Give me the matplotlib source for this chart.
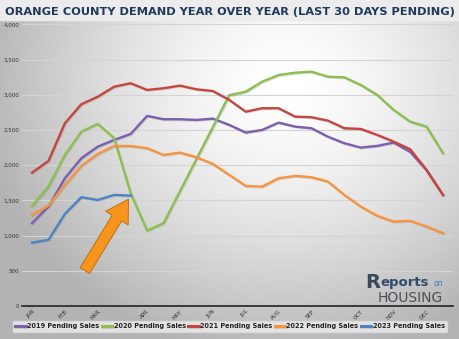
import matplotlib
matplotlib.use('Agg')
import matplotlib.pyplot as plt
import matplotlib.patheffects as pe
import numpy as np

# biweekly points, labelled at the first point of each month
month_labels = ['JAN', 'FEB', 'MAR', 'APR', 'MAY', 'JUN', 'JUL', 'AUG', 'SEP', 'OCT', 'NOV', 'DEC']
month_ticks = [0, 2, 4, 7, 9, 11, 13, 15, 17, 20, 22, 24]

sales_2019 = [1176, 1412, 1815, 2099, 2264, 2359, 2444, 2700, 2653, 2653, 2643, 2661, 2572,
              2463, 2501, 2605, 2548, 2525, 2405, 2312, 2250, 2274, 2321, 2190, 1930, 1575]
sales_2020 = [1421, 1696, 2146, 2477, 2586, 2383, 1602, 1071, 1176, 1630, 2085, 2540, 2995,
              3044, 3186, 3281, 3314, 3328, 3257, 3248, 3139, 2998, 2785, 2619, 2548, 2170]
sales_2021 = [1894, 2060, 2596, 2866, 2973, 3115, 3164, 3069, 3093, 3130, 3078, 3054, 2927,
              2760, 2809, 2809, 2690, 2681, 2633, 2525, 2515, 2430, 2335, 2227, 1933, 1578]
sales_2022 = [1294, 1426, 1720, 1990, 2160, 2273, 2273, 2241, 2146, 2179, 2113, 2018, 1862,
              1706, 1696, 1815, 1848, 1829, 1767, 1578, 1412, 1280, 1199, 1209, 1128, 1034]
sales_2023 = [900, 939, 1308, 1545, 1507, 1578, 1568]

series = [
    ('2019 Pending Sales', sales_2019, '#7d5fae'),
    ('2020 Pending Sales', sales_2020, '#8cbf4f'),
    ('2021 Pending Sales', sales_2021, '#c4463f'),
    ('2022 Pending Sales', sales_2022, '#f7943f'),
    ('2023 Pending Sales', sales_2023, '#4a84c4'),
]

fig = plt.figure(figsize=(4.6, 3.39), dpi=100)

# gray gradient background
bg = fig.add_axes([0, 0, 1, 1], zorder=-10)
gx, gy = np.meshgrid(np.linspace(0, 1, 200), np.linspace(0, 1, 150))
r = np.sqrt(((gx - 0.62) / 0.7) ** 2 + ((gy - 0.75) / 0.85) ** 2)
shade = np.clip(1.0 - 0.32 * r ** 1.5, 0.7, 1.0)
bg.imshow(shade, cmap='gray', vmin=0, vmax=1, extent=[0, 1, 0, 1],
          origin='lower', aspect='auto')
bg.axhspan(0.94, 1.0, color='#ececec')
bg.set_xlim(0, 1)
bg.set_ylim(0, 1)
bg.axis('off')

fig.text(0.5, 0.965, 'ORANGE COUNTY DEMAND YEAR OVER YEAR (LAST 30 DAYS PENDING)',
         ha='center', va='center', fontsize=8.2, fontweight='bold', color='#1f3a5c')

ax = fig.add_axes([22 / 460, 33 / 339, 431 / 460, 281.6 / 339])
ax.patch.set_alpha(0)
x_all = np.arange(len(sales_2019))
for name, vals, col in series:
    ax.plot(x_all[:len(vals)], vals, color=col, lw=1.7, label=name, solid_joinstyle='round',
            path_effects=[pe.SimpleLineShadow(offset=(0.6, -0.6), shadow_color='#777777', alpha=0.25),
                          pe.Normal()])

ax.set_xlim(-0.61, 25.61)
ax.set_ylim(0, 4000)
ax.set_yticks(range(0, 4001, 500))
ax.set_yticklabels(['{:,}'.format(v) for v in range(0, 4001, 500)], fontsize=4, color='#333333')
ax.grid(axis='y', color='#d4d4d4', lw=0.8)
ax.set_axisbelow(True)
ax.set_xticks(month_ticks)
ax.set_xticklabels(month_labels, rotation=45, ha='right', rotation_mode='anchor',
                   fontsize=4, color='#333333')
ax.tick_params(length=0, pad=2)
for s in ['top', 'right', 'left']:
    ax.spines[s].set_visible(False)
ax.spines['bottom'].set_color('#222222')
ax.spines['bottom'].set_linewidth(1.2)

# arrow pointing at the latest 2023 value
ax.annotate('', xy=(len(sales_2023) - 1, sales_2023[-1]), xytext=(-33, -54),
            textcoords='offset points',
            arrowprops=dict(arrowstyle='simple,head_width=1.9,head_length=1.6,tail_width=0.8',
                            fc='#f7941d', ec='#b8680f', lw=0.6, shrinkA=0, shrinkB=3))

# logo
fig.text(0.795, 0.138, 'R', fontsize=14, fontweight='bold', color='#3a4a5c', ha='left', va='bottom')
fig.text(0.826, 0.148, 'eports', fontsize=9.5, fontweight='bold', color='#2f4b6e', ha='left', va='bottom')
fig.text(0.943, 0.150, 'on', fontsize=5.5, color='#3a7cc0', ha='left', va='bottom')
fig.text(0.822, 0.100, 'HOUSING', fontsize=10, color='#4a4f57', ha='left', va='bottom')

handles, labels = ax.get_legend_handles_labels()
leg = fig.legend(handles, labels, loc='center', bbox_to_anchor=(0.5, 0.038), ncol=5,
                 fontsize=4.7, handlelength=1.6, handletextpad=0.2, columnspacing=0.4,
                 frameon=True, fancybox=False, borderpad=0.4)
leg.get_frame().set_facecolor('#eeeeee')
leg.get_frame().set_edgecolor('#dddddd')
for t in leg.get_texts():
    t.set_fontweight('bold')
    t.set_color('#222222')
for line in leg.get_lines():
    line.set_linewidth(2.2)

fig.savefig('out.png', dpi=100)
